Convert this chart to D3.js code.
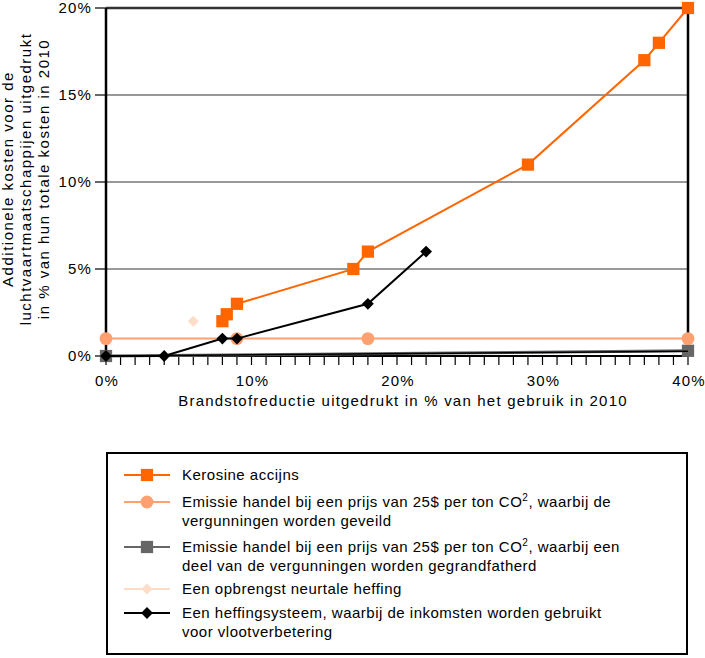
<!DOCTYPE html>
<html><head><meta charset="utf-8">
<script src="https://cdn.jsdelivr.net/npm/d3@7"></script>
<style>body{margin:0;background:#fff}svg{display:block}text{font-family:"Liberation Sans",Arial,sans-serif;}</style>
</head><body>
<script>
// ---- data ----
const keroX = [8, 8.3, 9, 17, 18, 29, 37, 38, 40];
const keroY = [2, 2.4, 3, 5, 6, 11, 17, 18, 20];
const emisGeveildX = [0, 9, 18, 40];
const emisGeveildY = [1, 1, 1, 1];
const emisGrandX = [0, 40];
const emisGrandY = [0, 0.3];
const neutraalX = [6];
const neutraalY = [2];
const heffingX = [0, 4, 8, 9, 18, 22];
const heffingY = [0, 0, 1, 1, 3, 6];
const yTicks = [0, 5, 10, 15, 20];
const xTicks = [0, 10, 20, 30, 40];
const xTitle = "Brandstofreductie uitgedrukt in % van het gebruik in 2010";
const yTitle = ["Additionele kosten voor de", "luchtvaartmaatschappijen uitgedrukt", "in % van hun totale kosten in 2010"];

const W = 705, H = 658;
const svg = d3.select("body").append("svg").attr("width", W).attr("height", H);
const x = d3.scaleLinear().domain([0, 40]).range([106, 688]);
const y = d3.scaleLinear().domain([0, 20]).range([356, 8]);

// gridlines
svg.selectAll(".grid").data(yTicks.filter(d => d > 0)).enter().append("line")
  .attr("x1", x(0)).attr("x2", x(40)).attr("y1", d => y(d)).attr("y2", d => y(d))
  .attr("stroke", "#333").attr("stroke-width", d => d === 20 ? 2.5 : 1);
// y tick marks
svg.selectAll(".yt").data(yTicks).enter().append("line")
  .attr("x1", 95).attr("x2", x(0)).attr("y1", d => y(d)).attr("y2", d => y(d)).attr("stroke", "#000").attr("stroke-width", 1.2);
svg.selectAll(".ytl").data(yTicks).enter().append("text")
  .attr("x", 92).attr("y", d => y(d) + 5).attr("text-anchor", "end").attr("font-size", 15).attr("letter-spacing", 1.2).text(d => d + "%");
// x minor ticks
svg.selectAll(".xt").data(d3.range(0, 41)).enter().append("line")
  .attr("x1", d => x(d)).attr("x2", d => x(d)).attr("y1", y(0)).attr("y2", y(0) + 9).attr("stroke", "#000").attr("stroke-width", 1.2);
svg.selectAll(".xtl").data(xTicks).enter().append("text")
  .attr("x", d => x(d) + 1).attr("y", 386).attr("text-anchor", "middle").attr("font-size", 15).attr("letter-spacing", 1.2).text(d => d + "%");
// axes
svg.append("line").attr("x1", x(0)).attr("x2", x(40)).attr("y1", y(0)).attr("y2", y(0)).attr("stroke", "#000").attr("stroke-width", 2);
svg.append("line").attr("x1", x(0)).attr("x2", x(0)).attr("y1", y(20)).attr("y2", y(0)).attr("stroke", "#000").attr("stroke-width", 2.5);
svg.append("line").attr("x1", x(40)).attr("x2", x(40)).attr("y1", y(20)).attr("y2", y(0)).attr("stroke", "#000").attr("stroke-width", 2.5);

// titles
svg.append("text").attr("x", 403).attr("y", 406).attr("text-anchor", "middle").attr("font-size", 15).attr("letter-spacing", 1.2).text(xTitle);
const yt = svg.append("text").attr("transform", "translate(0,179) rotate(-90)").attr("text-anchor", "middle").attr("font-size", 15).attr("letter-spacing", 1.5);
yTitle.forEach((t, i) => yt.append("tspan").attr("x", 0).attr("y", 13 + i * 18).text(t));

const diamond = d3.symbol().type(d3.symbolSquare);
function markerPath(m, s) { return d3.symbol().type(m).size(s)(); }
const line = d3.line().x(d => x(d[0])).y(d => y(d[1]));
function series(xs, ys, color, width, marker, size, rot) {
  const pts = xs.map((v, i) => [v, ys[i]]);
  if (pts.length > 1) svg.append("path").datum(pts).attr("d", line).attr("fill", "none").attr("stroke", color).attr("stroke-width", width);
  svg.selectAll(null).data(pts).enter().append("path")
    .attr("transform", d => `translate(${x(d[0])},${y(d[1])}) rotate(${rot || 0})`)
    .attr("d", markerPath(marker, size)).attr("fill", color);
}
series(emisGrandX, emisGrandY, "#666", 3, d3.symbolSquare, 150);
svg.append("path").datum(emisGrandX.map((v, i) => [v, emisGrandY[i] * 0.9])).attr("d", line).attr("fill", "none").attr("stroke", "#000").attr("stroke-width", 1.5);
series(emisGeveildX, emisGeveildY, "#FFA070", 2, d3.symbolCircle, 130);
series(neutraalX, neutraalY, "#FDDCC8", 2, d3.symbolSquare, 60, 45);
series(keroX, keroY, "#FF6600", 2, d3.symbolSquare, 150);
series(heffingX, heffingY, "#000", 2, d3.symbolSquare, 70, 45);

// legend
svg.append("rect").attr("x", 107).attr("y", 453).attr("width", 580).attr("height", 201).attr("fill", "none").attr("stroke", "#000").attr("stroke-width", 2);
const legend = [
  {c: "#FF6600", m: d3.symbolSquare, s: 150, r: 0, lines: [["Kerosine accijns"]]},
  {c: "#FFA070", m: d3.symbolCircle, s: 130, r: 0, lines: [["Emissie handel bij een prijs van 25$ per ton CO", "2", ", waarbij de"], ["vergunningen worden geveild"]]},
  {c: "#666", m: d3.symbolSquare, s: 150, r: 0, lines: [["Emissie handel bij een prijs van 25$ per ton CO", "2", ", waarbij een"], ["deel van de vergunningen worden gegrandfatherd"]]},
  {c: "#FDDCC8", m: d3.symbolSquare, s: 60, r: 45, lines: [["Een opbrengst neurtale heffing"]]},
  {c: "#000", m: d3.symbolSquare, s: 70, r: 45, lines: [["Een heffingsysteem, waarbij de inkomsten worden gebruikt"], ["voor vlootverbetering"]]}
];
const rowY = [475, 502, 547, 589, 613];
legend.forEach((d, i) => {
  const yy = rowY[i];
  svg.append("line").attr("x1", 124).attr("x2", 170).attr("y1", yy).attr("y2", yy).attr("stroke", d.c).attr("stroke-width", 2);
  svg.append("path").attr("transform", `translate(147,${yy}) rotate(${d.r})`).attr("d", markerPath(d.m, d.s)).attr("fill", d.c);
  d.lines.forEach((ln, j) => {
    const t = svg.append("text").attr("x", 182).attr("y", yy + 5 + j * 19).attr("font-size", 15).attr("letter-spacing", 0.5);
    t.append("tspan").text(ln[0]);
    if (ln.length > 1) {
      t.append("tspan").attr("dy", -6).attr("font-size", 10).text(ln[1]);
      t.append("tspan").attr("dy", 6).text(ln[2]);
    }
  });
});
</script>
</body></html>
